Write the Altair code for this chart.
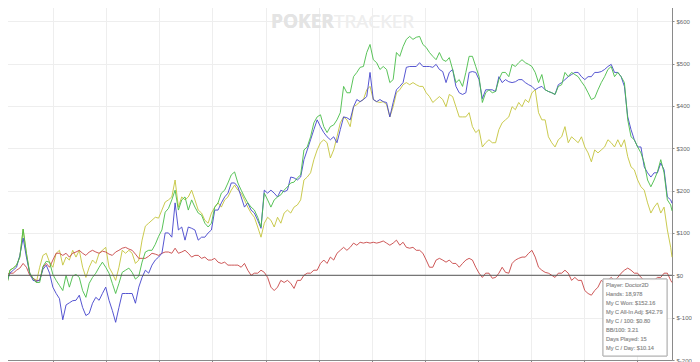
import altair as alt
import pandas as pd

TOTAL_HANDS = 18978
N_STEPS = 203.4
HANDS = [round(k * TOTAL_HANDS / N_STEPS) for k in range(204)] + [TOTAL_HANDS]

GREEN = [
    0, -7, -24, 12, 17, 24, 43, 109, 52, 5, -7, -17, -17, 21, 33, 31, 2, -12, -24, -36, 0, -28, -2, 2, -5, -36,
    -52, -19, -5, 5, 19, 31, 19, 5, -19, -43, -19, 7, 12, 17, 7, -9, -2, 31, 55, 59, 59, 73, 92, 107, 149, 158,
    178, 201, 154, 178, 185, 154, 178, 161, 147, 142, 123, 114, 123, 161, 171, 194, 201, 218, 237, 244, 218, 201,
    185, 171, 161, 154, 137, 114, 194, 178, 161, 178, 185, 190, 201, 209, 218, 220, 230, 237, 296, 303, 327, 360,
    374, 379, 351, 337, 351, 355, 367,
    384, 446, 431, 431, 469, 479, 491, 493, 526, 545, 509, 502, 486, 493, 486, 455, 462, 526, 517, 540, 557, 564,
    557, 562, 564, 545, 538, 526, 517, 509, 526, 509, 505, 514, 486, 455, 462, 446, 479, 517, 517, 493, 469, 408,
    431, 438, 431, 434, 462, 479, 479,
    469, 498, 493, 502, 509, 502, 498, 493, 479, 455, 474, 438, 434, 431, 427, 446, 450, 479, 469, 479, 474, 469,
    457, 446, 431, 415, 419, 438, 455, 469, 486, 493, 469, 479, 469, 455, 367, 327, 320, 303, 289, 265, 225, 209,
    225, 244, 273, 242, 178, 166, 152.16,
]

BLUE = [
    0, -7, -17, 5, 12, 19, 47, 88, 43, 5, -12, -14, -12, 14, 24, 5, -28, -43, -55, -105, -70, -65, -60, -59, -47,
    -76, -95, -90, -66, -52, -59, -43, -28, -59, -83, -111, -76, -43, -43, -43, -43, -66, -28, -5, 12, 5, 24, 36,
    43, 52, 100, 100,
    90, 171, 107, 114, 83, 114, 111, 107, 83, 90, 90, 100, 107, 154, 154, 171, 185, 194, 218, 218, 209, 185, 161,
    171, 154, 147, 130, 111, 201, 194, 201, 194, 185, 201, 197, 201, 232, 230, 225, 232, 273, 296, 320, 344, 367,
    351, 337, 327, 320, 327, 313,
    344, 374, 372, 367, 398, 415, 410, 415, 422, 479, 415, 410, 415, 410, 408, 374, 408, 438, 446, 455, 491, 493,
    493, 493, 502, 493, 493, 493, 491, 498, 486, 481, 455, 479, 486, 446, 431, 427, 431, 479, 481, 479, 462, 417,
    438, 438, 438, 434, 469, 455, 462,
    457, 455, 457, 462, 462, 455, 450, 446, 438, 443, 446, 438, 434, 431, 427, 450, 455, 462, 469, 474, 479, 479,
    469, 462, 469, 469, 479, 479, 481, 486, 493, 498, 479, 479, 469, 446, 374, 344, 320, 303, 303, 256, 242, 232,
    242, 242, 265, 249, 185, 178, 170,
]

YELLOW = [
    0, -7, -24, 12, 17, 24, 43, 109, 52, 5, -7, -17, 19, 47, 52, 31, 19, 52, 59, 24, 43, 36, 59, 43, 59, 19, -5,
    19, 36, 28, 52, 59, 66, 19, 5, -12, 19, 59, 52, 59, 52, 28, 36, 83, 116, 123, 130, 137, 135, 154, 173, 178,
    185, 225, 161, 185, 178, 185, 201, 178, 154, 147, 130, 123, 147, 161, 171, 161, 178, 185, 201, 213, 201, 194,
    178, 161, 147, 137, 114, 90, 123, 137, 130, 114, 137, 123, 147, 154, 147, 161, 166, 178, 225, 232, 242, 273,
    296, 313, 320, 313, 277, 296, 327,
    360, 374, 367, 351, 398, 403, 410, 415, 438, 446, 415, 410, 408, 410, 403, 374, 398, 431, 438, 450, 455, 450,
    455, 450, 446, 446, 431, 422, 408, 415, 422, 415, 398, 427, 422, 398, 374, 374, 374, 384, 351, 337, 344, 303,
    313, 320, 313, 313, 344, 360, 367,
    374, 398, 391, 408, 398, 415, 408, 431, 438, 384, 367, 367, 327, 313, 303, 320, 327, 351, 313, 327, 320, 313,
    327, 303, 289, 268, 296, 289, 296, 303, 320, 313, 303, 320, 303, 320, 280, 256, 249, 225, 209, 201, 171, 147,
    161, 171, 147, 161, 107, 66, 42.79,
]

RED = [
    0, 0, 2, 5, 5, 12, 17, 28, 19, 0, -7, -12, -12, 19, 28, 19, 36, 52, 52, 47, 52, 43, 52, 55, 59, 52, 47, 55,
    59, 55, 52, 57, 55, 50, 47, 55, 59, 64, 66, 62, 59, 50, 40, 40, 40, 45, 52, 50, 47, 52, 55, 55,
    52, 64, 52, 55, 59, 52, 43, 47, 47, 40, 43, 36, 36, 40, 31, 28, 31, 24, 24, 24, 24, 19, 28, 12, 0, 5, 5, 12,
    7, -5, -28, -36, -28, -12, -17, -12, -19, -31, -12, -12, 0, 5, 5, 12, 12, 28, 36, 28, 43, 36, 52,
    59, 66, 59, 66, 76, 71, 78, 76, 78, 76, 78, 76, 78, 81, 76, 71, 76, 83, 71, 78, 66, 64, 66, 59, 59, 52, 36,
    19, 19, 36, 40, 36, 31, 36, 28, 28, 19, 28, 36, 40, 36, 19, 5, -5, 5, 5, -7, -5, 5, 19, 7,
    5, 28, 36, 40, 43, 43, 52, 59, 43, 19, 12, 7, 5, 0, -5, 5, 5, 12, 5, -12, -5, -12, -12, -36, -43, -47, -36,
    -28, -12, -19, -12, -5, -12, -5, 5, 12, 17, 12, 5, 5, -5, -12, -19, -12, -12, -5, -5, 5, 5, -12, -17,
]

SERIES = ["All-In Adj", "Non-Showdown", "Showdown", "Won"]
COLORS = ["#c4c43c", "#c84646", "#4444cc", "#48bc48"]
VALUES = [YELLOW, RED, BLUE, GREEN]

LEGEND_LINES = [
    "Player: Doctor2D",
    "Hands: 18,978",
    "My C Won: $152.16",
    "My C All-In Adj: $42.79",
    "My C / 100: $0.80",
    "BB/100: 3.21",
    "Days Played: 15",
    "My C / Day: $10.14",
]

Y_TICKS = list(range(-200, 651, 50))
X_TICKS = list(range(0, TOTAL_HANDS, 750))

W, H = 672, 360

xscale = alt.Scale(domain=[0, TOTAL_HANDS], nice=False, zero=False)
yscale = alt.Scale(domain=[-200, 650], nice=False)

xaxis = alt.Axis(values=X_TICKS, labels=False, title=None, grid=True, gridColor="#eeeeee",
                 domainColor="#8a8a8a", tickColor="#8a8a8a", tickSize=4)
yaxis = alt.Axis(orient="right", values=Y_TICKS, title=None, grid=True, gridColor="#eeeeee",
                 labelExpr="'$' + datum.value", labelFontSize=6, labelColor="#666666",
                 labelFont="Liberation Sans", domainColor="#8a8a8a", tickColor="#8a8a8a",
                 tickSize=2, labelPadding=2)

layers = []

base_df = pd.DataFrame({"hands": [0, TOTAL_HANDS], "amount": [0, 0]})
layers.append(
    alt.Chart(base_df).mark_point(opacity=0).encode(
        x=alt.X("hands:Q", scale=xscale, axis=xaxis),
        y=alt.Y("amount:Q", scale=yscale, axis=yaxis),
    )
)

# watermark
layers.append(alt.Chart(base_df).mark_text(text="POKER", font="Open Sans", fontWeight="bold", fontSize=19,
                                           color="#e4e4e4", align="left", baseline="middle")
              .encode(x=alt.value(271), y=alt.value(22)))
layers.append(alt.Chart(base_df).mark_text(text="TRACKER", font="Open Sans", fontSize=19,
                                           color="#eeeeee", align="left", baseline="middle")
              .encode(x=alt.value(334), y=alt.value(22)))

for name, color, vals in zip(SERIES, COLORS, VALUES):
    df = pd.DataFrame({"hands": HANDS[:len(vals)], "amount": vals})
    layers.append(
        alt.Chart(df).mark_line(color=color, strokeWidth=1, opacity=0.9, interpolate="linear").encode(
            x=alt.X("hands:Q", scale=xscale),
            y=alt.Y("amount:Q", scale=yscale),
        )
    )

zero_df = pd.DataFrame({"amount": [0]})
layers.append(alt.Chart(zero_df).mark_rule(color="#555555", strokeWidth=1).encode(
    y=alt.Y("amount:Q", scale=yscale)))

# info box
layers.append(alt.Chart(base_df).mark_rect(fill="white", fillOpacity=0.85, stroke="#b4b4b4", strokeWidth=1)
              .encode(x=alt.value(603), x2=alt.value(667), y=alt.value(279), y2=alt.value(356)))
for i, line in enumerate(LEGEND_LINES):
    layers.append(alt.Chart(base_df).mark_text(text=line, font="Liberation Sans", fontSize=5.6,
                                               color="#9a9a9a", align="left", baseline="middle")
                  .encode(x=alt.value(606), y=alt.value(285 + i * 9)))

chart = alt.layer(*layers).properties(
    width=W, height=H,
    padding={"left": -8, "top": -8, "right": 20, "bottom": 2},
    autosize=alt.AutoSizeParams(type="none"),
).configure_view(stroke=None)

chart.save("out.html", embed_options={"renderer": "svg", "actions": False})
